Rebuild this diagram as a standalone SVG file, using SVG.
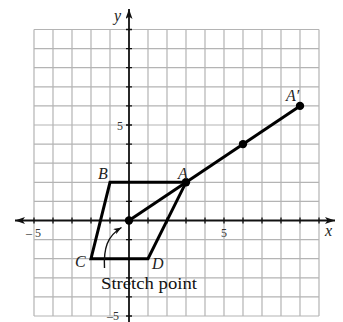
<svg xmlns="http://www.w3.org/2000/svg" width="343" height="322" viewBox="0 0 343 322">
<style>
.grid{stroke:#b4b4b4;stroke-width:1.2;fill:none}
.axis{stroke:#111;stroke-width:1.8;fill:none}
.tick{stroke:#111;stroke-width:1.3}
.shape{stroke:#000;stroke-width:3;fill:none;stroke-linejoin:miter}
.dot{fill:#000}
.num{font-family:"Liberation Serif","Times New Roman",serif;font-size:12px;fill:#333}
.lbl{font-family:"Liberation Serif","Times New Roman",serif;font-style:italic;font-size:16px;fill:#222}
.txt{font-family:"Liberation Serif","Times New Roman",serif;font-size:17px;fill:#111}
</style>
<defs>
<marker id="ah" markerUnits="userSpaceOnUse" markerWidth="10" markerHeight="8" refX="10" refY="3.5" orient="auto-start-reverse">
<path d="M0,0 L10,3.5 L0,7 L2.5,3.5 z" fill="#111"/>
</marker>
<marker id="ah2" markerUnits="userSpaceOnUse" markerWidth="9" markerHeight="8" refX="8" refY="3" orient="auto">
<path d="M0,0 L8,3 L0,6 L2,3 z" fill="#111"/>
</marker>
</defs>
<rect width="343" height="322" fill="#fff"/>
<g id="grid" class="grid">
<path d="M34,29.5V316M53,29.5V316M72,29.5V316M91,29.5V316M110,29.5V316M148,29.5V316M167,29.5V316M186,29.5V316M205,29.5V316M224,29.5V316M243,29.5V316M262,29.5V316M281,29.5V316M300,29.5V316M319,29.5V316"/>
<path d="M34,29.5H319M34,48.6H319M34,67.7H319M34,86.8H319M34,105.9H319M34,125H319M34,144.1H319M34,163.2H319M34,182.3H319M34,201.4H319M34,239.6H319M34,258.7H319M34,277.8H319M34,296.9H319M34,316H319"/>
</g>
<g id="axes">
<line class="axis" x1="15" y1="220.5" x2="335" y2="220.5" marker-start="url(#ah)" marker-end="url(#ah)"/>
<line class="axis" x1="129" y1="322" x2="129" y2="9" marker-end="url(#ah)"/>
<path class="tick" d="M34,217.5V223.5M53,217.5V223.5M72,217.5V223.5M91,217.5V223.5M110,217.5V223.5M148,217.5V223.5M167,217.5V223.5M186,217.5V223.5M205,217.5V223.5M224,217.5V223.5M243,217.5V223.5M262,217.5V223.5M281,217.5V223.5M300,217.5V223.5M319,217.5V223.5"/>
<path class="tick" d="M126,29.5H132M126,48.6H132M126,67.7H132M126,86.8H132M126,105.9H132M126,125H132M126,144.1H132M126,163.2H132M126,182.3H132M126,201.4H132M126,239.6H132M126,258.7H132M126,277.8H132M126,296.9H132M126,316H132"/>
<text class="lbl" x="114" y="21">y</text>
<text class="lbl" x="325" y="236">x</text>
<text class="num" x="26" y="237">– 5</text>
<text class="num" x="221" y="237">5</text>
<text class="num" x="117" y="129.5">5</text>
<text class="num" x="107" y="320">–5</text>
</g>
<g id="connectors">
<polygon class="shape" points="110,182.3 186,182.3 148,258.7 91,258.7"/>
<line class="shape" x1="129" y1="220.5" x2="300" y2="105.9"/>
<path d="M104.5,268 C103.5,249 107,236 121.5,227.5" fill="none" stroke="#111" stroke-width="1.4" marker-end="url(#ah2)"/>
</g>
<g id="node-O"><circle class="dot" cx="129" cy="220.5" r="4.2"/></g>
<g id="node-A"><circle class="dot" cx="186" cy="182.3" r="4.2"/><text class="lbl" x="178" y="179">A</text></g>
<g id="node-M"><circle class="dot" cx="243" cy="144.1" r="4.2"/></g>
<g id="node-A-prime"><circle class="dot" cx="300" cy="105.9" r="4.2"/><text class="lbl" x="286" y="101">A′</text></g>
<g id="node-B"><text class="lbl" x="98" y="179">B</text></g>
<g id="node-C"><text class="lbl" x="75" y="267">C</text></g>
<g id="node-D"><text class="lbl" x="152" y="269">D</text></g>
<g id="label-stretch"><text class="txt" x="101" y="289" textLength="96" lengthAdjust="spacingAndGlyphs">Stretch point</text></g>
</svg>
